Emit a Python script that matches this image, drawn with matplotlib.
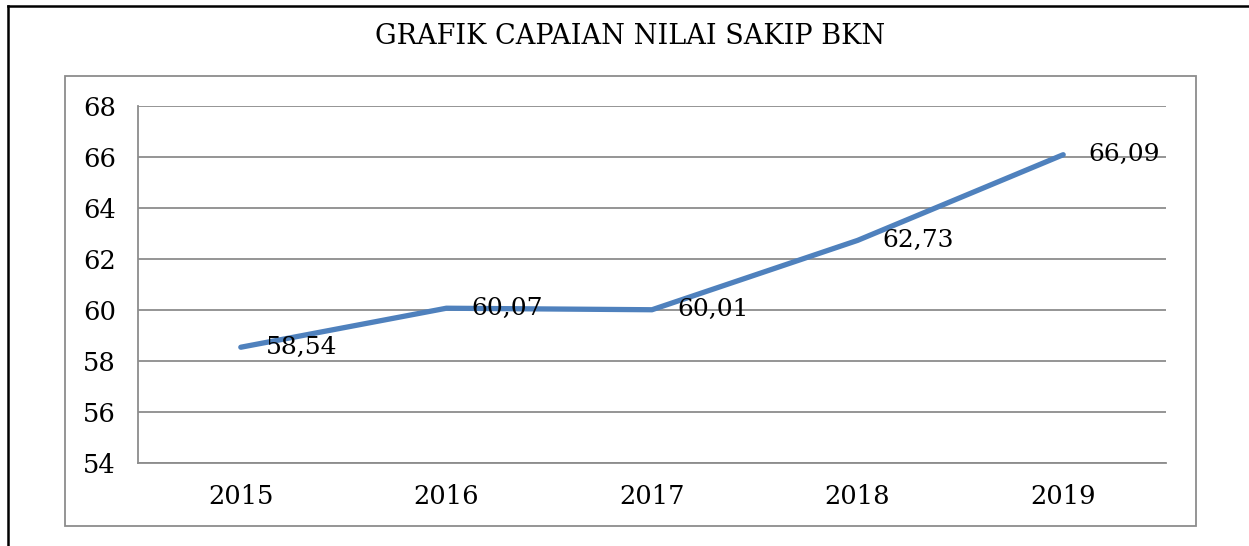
import matplotlib.pyplot as plt
from matplotlib.patches import Rectangle
from matplotlib.lines import Line2D

# data
years = ["2015", "2016", "2017", "2018", "2019"]
nilai = [58.54, 60.07, 60.01, 62.73, 66.09]
y_ticks = [54, 56, 58, 60, 62, 64, 66, 68]

W, H = 1249, 546
plt.rcParams['font.family'] = ['DejaVu Serif']

fig = plt.figure(figsize=(W / 100, H / 100), dpi=100)

# outer black frame (only left and top visible)
fig.add_artist(Line2D([8 / W, 8 / W], [0, 1 - 6 / H], color="black", lw=1.8, transform=fig.transFigure))
fig.add_artist(Line2D([8 / W, 1], [1 - 6 / H, 1 - 6 / H], color="black", lw=1.8, transform=fig.transFigure))

# chart area box
fig.add_artist(Rectangle((65 / W, 1 - 526 / H), (1196 - 65) / W, (526 - 76) / H,
                         transform=fig.transFigure, fill=False, edgecolor="#8c8c8c", lw=1.3))

ax = fig.add_axes([138 / W, 1 - 463 / H, 1028 / W, 357 / H])
x = list(range(len(years)))
ax.plot(x, nilai, color="#4f81bd", lw=3.8, solid_capstyle="round", zorder=3)

for xi, v in zip(x, nilai):
    ax.annotate(f"{v:.2f}".replace(".", ","), (xi, v), xytext=(18, 0), textcoords="offset points",
                ha="left", va="center", fontsize=18, zorder=4)

ax.set_xlim(-0.5, len(years) - 0.5)
ax.set_ylim(54, 68)
ax.set_yticks(y_ticks)
ax.set_xticks(x)
ax.set_xticklabels(years)
ax.grid(axis="y", color="#8c8c8c", lw=1.3)
ax.set_axisbelow(True)
for s in ["top", "right"]:
    ax.spines[s].set_visible(False)
for s in ["left", "bottom"]:
    ax.spines[s].set_color("#8c8c8c")
    ax.spines[s].set_linewidth(1.3)
ax.tick_params(axis="both", length=0, labelsize=18.5)
ax.tick_params(axis="y", pad=16)
ax.tick_params(axis="x", pad=15)

fig.text(630 / W, 1 - 37 / H, "GRAFIK CAPAIAN NILAI SAKIP BKN", ha="center", va="center", fontsize=19.5)

fig.savefig("out.png", dpi=100)
